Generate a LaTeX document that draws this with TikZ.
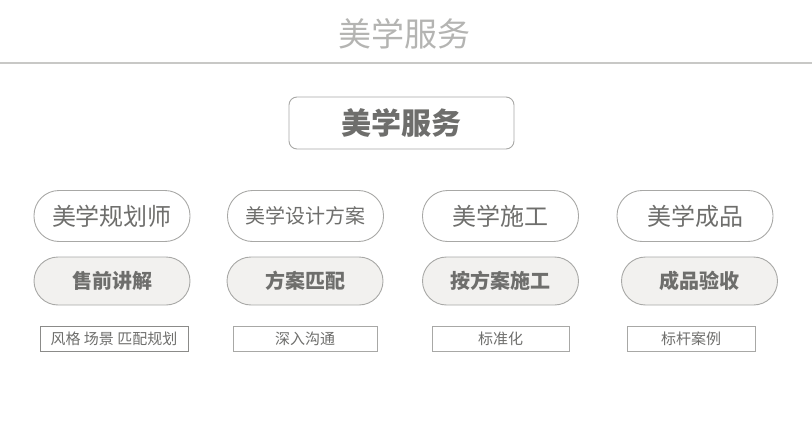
\documentclass[tikz,border=0pt]{standalone}
\usepackage{fontspec}
\setmainfont{Noto Sans CJK SC}
\definecolor{titlegray}{HTML}{B4B4B2}
\definecolor{linegray}{HTML}{C8C8C6}
\definecolor{textgray}{HTML}{6E6E6C}
\definecolor{bordergray}{HTML}{A8A8A6}
\definecolor{pillfill}{HTML}{F2F1EF}
\tikzset{
  pillbox/.style={draw=bordergray, line width=0.9pt, rounded corners=25pt, minimum width=156pt, minimum height=51pt, inner sep=0pt, text=textgray},
  fillpill/.style={pillbox, fill=pillfill, rounded corners=24pt, minimum height=48pt},
  tagbox/.style={draw=bordergray, line width=0.8pt, minimum height=25pt, inner sep=0pt, text=textgray, font=\fontsize{15}{15}\selectfont},
}
\begin{document}
\begin{tikzpicture}[x=1pt,y=-1pt]
\useasboundingbox (0,0) rectangle (812,439);
\node[text=titlegray, font=\fontsize{33}{33}\selectfont] (title) at (404,34) {美学服务};
\coordinate (ll) at (0,63);
\coordinate (lr) at (812,63);
\draw[linegray, line width=1.4pt] (ll) -- (lr);
\node[draw=bordergray, line width=0.9pt, rounded corners=8pt, minimum width=225pt, minimum height=52pt, inner sep=0pt, text=textgray, font=\fontsize{30}{30}\selectfont\bfseries] (main) at (401.5,123) {美学服务};

\node[pillbox, font=\fontsize{24}{24}\selectfont] (a1) at (112,216) {美学规划师};
\node[pillbox, font=\fontsize{20}{20}\selectfont] (a2) at (305.5,216) {美学设计方案};
\node[pillbox, font=\fontsize{24}{24}\selectfont] (a3) at (500.5,216) {美学施工};
\node[pillbox, font=\fontsize{24}{24}\selectfont] (a4) at (695,216) {美学成品};

\node[fillpill, font=\fontsize{20}{20}\selectfont\bfseries] (b1) at (112,281) {售前讲解};
\node[fillpill, font=\fontsize{20}{20}\selectfont\bfseries] (b2) at (305,281) {方案匹配};
\node[fillpill, font=\fontsize{20}{20}\selectfont\bfseries] (b3) at (500.5,281) {按方案施工};
\node[fillpill, font=\fontsize{20}{20}\selectfont\bfseries] (b4) at (699.5,281) {成品验收};

\node[tagbox, draw=textgray!80, minimum width=148pt] (c1) at (114,338.5) {风格 场景 匹配规划};
\node[tagbox, minimum width=144pt] (c2) at (305,338.5) {深入沟通};
\node[tagbox, minimum width=137pt] (c3) at (500.5,338.5) {标准化};
\node[tagbox, minimum width=128pt] (c4) at (691,338.5) {标杆案例};
\end{tikzpicture}
\end{document}
